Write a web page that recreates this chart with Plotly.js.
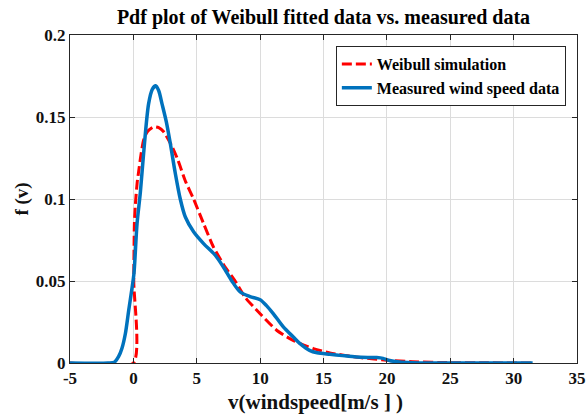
<!DOCTYPE html>
<html>
<head>
<meta charset="utf-8">
<script src="https://cdn.plot.ly/plotly-3.0.1.min.js"></script>
<style>html,body{margin:0;padding:0;background:#fff}#chart{width:587px;height:419px}</style>
</head>
<body>
<div id="chart"></div>
<script>
// Weibull simulation (red dashed)
var vWeibull = [-5, 0, 0.03, 0.08, 0.16, 0.3, 0.42, 0.6, 0.81, 1.1, 1.6, 2.0, 2.39, 3.05, 3.5, 4.1, 4.75, 5.54, 6.32, 7.24, 8.03, 8.82, 10.0, 11.3, 12.6, 14.2, 15.5, 17.9, 19.0, 20, 22, 25, 28, 31.5];
var fWeibull = [0, 0, 0.05, 0.085, 0.097, 0.11, 0.117, 0.127, 0.136, 0.141, 0.144, 0.1435, 0.141, 0.132, 0.124, 0.111, 0.100, 0.085, 0.0707, 0.0585, 0.050, 0.040, 0.030, 0.020, 0.0138, 0.0088, 0.0061, 0.0033, 0.0024, 0.0017, 0.0008, 0.0002, 0.0001, 0];

// Measured wind speed data (blue)
var vMeasured = [-5, -2, -1.5, -1.16, -0.9, -0.63, -0.37, -0.1, 0.05, 0.29, 0.55, 0.81, 1.2, 1.5, 1.76, 2.0, 2.26, 2.6, 2.91, 3.3, 3.7, 4.1, 4.75, 5.54, 6.46, 7.1, 7.77, 8.43, 9.2, 10.0, 10.5, 11.05, 11.83, 12.6, 13.15, 13.9, 14.5, 15.5, 16.5, 17.6, 18.5, 19.2, 19.7, 20.2, 21, 22, 25, 31.5];
var fMeasured = [0, 0, 0.0005, 0.004, 0.009, 0.018, 0.032, 0.046, 0.055, 0.085, 0.104, 0.128, 0.158, 0.167, 0.169, 0.166, 0.158, 0.147, 0.134, 0.116, 0.100, 0.089, 0.080, 0.0728, 0.0657, 0.0585, 0.050, 0.0433, 0.0405, 0.0386, 0.035, 0.030, 0.022, 0.016, 0.0118, 0.0077, 0.0062, 0.0053, 0.0045, 0.0037, 0.0034, 0.0033, 0.0028, 0.0015, 0.0006, 0.0002, 0, 0];

var xTicks = [-5, 0, 5, 10, 15, 20, 25, 30, 35];
var yTicks = [0, 0.05, 0.1, 0.15, 0.2];
var yTickLabels = ['0', '0.05', '0.1', '0.15', '0.2'];

var FONT = 'Liberation Serif';

var traces = [
  {x: vWeibull, y: fWeibull, type: 'scatter', mode: 'lines', name: 'Weibull simulation',
   line: {color: '#FF0000', width: 3, dash: '10px,4px', shape: 'spline', smoothing: 0.6}},
  {x: vMeasured, y: fMeasured, type: 'scatter', mode: 'lines', name: 'Measured wind speed data',
   line: {color: '#0072BD', width: 3.5, shape: 'spline', smoothing: 0.8}}
];

function axisBase() {
  return {
    showline: true, linecolor: '#262626', linewidth: 1, mirror: 'ticks',
    ticks: 'inside', ticklen: 5, tickcolor: '#262626', tickwidth: 1,
    showgrid: true, gridcolor: '#dcdcdc', gridwidth: 1, zeroline: false,
    tickfont: {family: FONT, size: 17, color: '#111', weight: 'bold'}
  };
}

var xaxis = axisBase();
xaxis.range = [-5, 35];
xaxis.tickmode = 'array';
xaxis.tickvals = xTicks;
xaxis.ticktext = xTicks.map(String);
xaxis.title = {text: 'v(windspeed[m/s ] )&nbsp;&nbsp;&nbsp;', font: {family: FONT, size: 21, color: '#111', weight: 'bold'}, standoff: 6};

var yaxis = axisBase();
yaxis.range = [0, 0.2];
yaxis.tickmode = 'array';
yaxis.tickvals = yTicks;
yaxis.ticktext = yTickLabels;
yaxis.title = {text: 'f (v)', font: {family: FONT, size: 19, color: '#111', weight: 'bold'}, standoff: 2};

var layout = {
  width: 587, height: 419,
  margin: {l: 70, r: 10, t: 35, b: 56},
  paper_bgcolor: '#fff', plot_bgcolor: '#fff',
  font: {family: FONT, color: '#111', weight: 'bold'},
  title: {text: 'Pdf plot of Weibull fitted data vs. measured data',
          font: {family: FONT, size: 20, color: '#000', weight: 'bold'},
          x: 0.5, xref: 'paper', xanchor: 'center', y: 0.96, yref: 'container', yanchor: 'middle'},
  xaxis: xaxis,
  yaxis: yaxis,
  showlegend: true,
  legend: {x: 0.978, xanchor: 'right', y: 0.966, yanchor: 'top', xref: 'paper', yref: 'paper',
           bgcolor: '#fff', bordercolor: '#262626', borderwidth: 1,
           font: {family: FONT, size: 16, color: '#000', weight: 'bold'}, tracegroupgap: 0}
};

Plotly.newPlot('chart', traces, layout, {displayModeBar: false, staticPlot: true});
</script>
</body>
</html>
